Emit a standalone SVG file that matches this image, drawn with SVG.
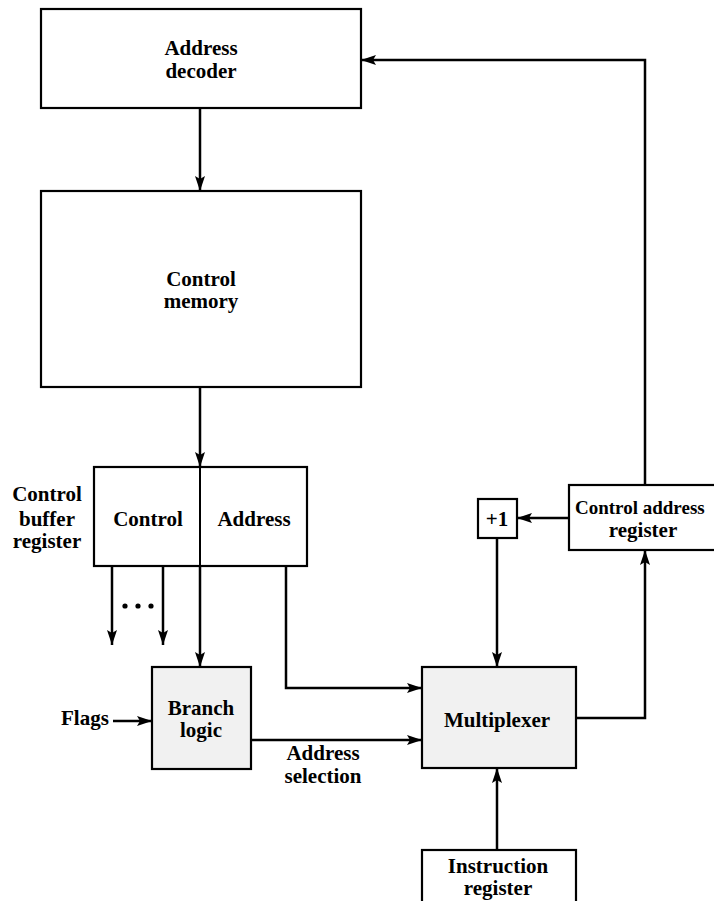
<svg xmlns="http://www.w3.org/2000/svg" width="714" height="901" viewBox="0 0 714 901">
<style>
.box{fill:#ffffff;stroke:#000;stroke-width:2.2}
.shade{fill:#f1f1f1;stroke:#000;stroke-width:2.2}
.t{font-family:"Liberation Serif","Times New Roman",serif;font-weight:bold;font-size:21px;fill:#000}
.c{text-anchor:middle}
.w{fill:none;stroke:#000;stroke-width:2.5}
</style>
<defs>
<marker id="ah" viewBox="0 0 15 10" refX="15" refY="5" markerWidth="15" markerHeight="10" markerUnits="userSpaceOnUse" orient="auto">
<path d="M0,0 L15,5 L0,10 L3,5 Z" fill="#000"/>
</marker>
</defs>
<rect width="714" height="901" fill="#fff"/>

<g id="address-decoder">
<rect class="box" x="41" y="9" width="320" height="99"/>
<text class="t c" x="201" y="55">Address</text>
<text class="t c" x="201" y="78">decoder</text>
</g>

<g id="control-memory">
<rect class="box" x="41" y="191" width="320" height="196"/>
<text class="t c" x="201" y="286">Control</text>
<text class="t c" x="201" y="308">memory</text>
</g>

<g id="control-buffer-register">
<rect class="box" x="94" y="467" width="213" height="99"/>
<line x1="200" y1="467" x2="200" y2="566" stroke="#000" stroke-width="2"/>
<text class="t c" x="148" y="526">Control</text>
<text class="t c" x="254" y="526">Address</text>
<text class="t c" x="47" y="501">Control</text>
<text class="t c" x="47" y="526">buffer</text>
<text class="t c" x="47" y="548">register</text>
</g>

<g id="branch-logic">
<rect class="shade" x="152" y="667" width="99" height="102"/>
<text class="t c" x="201" y="715">Branch</text>
<text class="t c" x="201" y="737">logic</text>
</g>

<g id="flags">
<text class="t" x="61" y="725">Flags</text>
</g>

<g id="multiplexer">
<rect class="shade" x="422" y="667" width="154" height="101"/>
<text class="t c" x="497" y="727">Multiplexer</text>
</g>

<g id="plus-one">
<rect class="box" x="478" y="499" width="39" height="39"/>
<text class="t c" x="497" y="526">+1</text>
</g>

<g id="control-address-register">
<rect class="box" x="569" y="485" width="160" height="65"/>
<text class="t" x="575" y="514" style="font-size:19px">Control address</text>
<text class="t c" x="643" y="537">register</text>
</g>

<g id="instruction-register">
<rect class="box" x="422" y="850" width="154" height="60"/>
<text class="t c" x="498" y="873">Instruction</text>
<text class="t c" x="498" y="895">register</text>
</g>

<g id="address-selection-label">
<text class="t c" x="323" y="760">Address</text>
<text class="t c" x="323" y="783">selection</text>
</g>

<g id="connectors">
<line class="w" x1="200" y1="108" x2="200" y2="191" marker-end="url(#ah)"/>
<line class="w" x1="200" y1="387" x2="200" y2="467" marker-end="url(#ah)"/>
<line class="w" x1="200" y1="566" x2="200" y2="667" marker-end="url(#ah)"/>
<line class="w" x1="112" y1="566" x2="112" y2="645" marker-end="url(#ah)"/>
<line class="w" x1="163" y1="566" x2="163" y2="645" marker-end="url(#ah)"/>
<circle cx="125" cy="606" r="2.6" fill="#000"/>
<circle cx="138" cy="606" r="2.6" fill="#000"/>
<circle cx="151" cy="606" r="2.6" fill="#000"/>
<line class="w" x1="113" y1="721" x2="152" y2="721" marker-end="url(#ah)"/>
<polyline class="w" points="286,566 286,688 422,688" marker-end="url(#ah)"/>
<line class="w" x1="251" y1="740" x2="422" y2="740" marker-end="url(#ah)"/>
<line class="w" x1="569" y1="518" x2="517" y2="518" marker-end="url(#ah)"/>
<line class="w" x1="497" y1="538" x2="497" y2="667" marker-end="url(#ah)"/>
<line class="w" x1="497" y1="850" x2="497" y2="768" marker-end="url(#ah)"/>
<polyline class="w" points="576,718 645,718 645,550" marker-end="url(#ah)"/>
<polyline class="w" points="645,485 645,60 361,60" marker-end="url(#ah)"/>
</g>
</svg>
